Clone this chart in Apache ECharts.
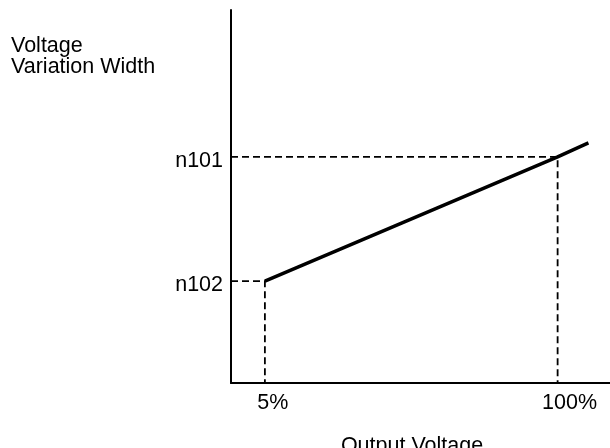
<!DOCTYPE html>
<html>
<head>
<meta charset="utf-8">
<script src="https://cdn.jsdelivr.net/npm/echarts@6/dist/echarts.min.js"></script>
<style>
html,body{margin:0;padding:0;background:#fff;}
#chart{width:610px;height:448px;}
</style>
</head>
<body>
<div id="chart"></div>
<script>
// Data
var yTitle = 'Voltage\nVariation Width';
var xTitle = 'Output Voltage';
var xTickValues = [5, 100];
var xTickLabels = ['5%', '100%'];
var yTickValues = [27.3, 60.6];
var yTickLabels = ['n102', 'n101'];
var mainLine = [[5, 27.3], [100, 60.6], [110, 64.4]];
var guideLow = [[-6, 27.3], [5, 27.3], [5, 0]];
var guideHigh = [[-6, 60.6], [100, 60.6], [100, 0]];

var font = '"Liberation Sans", Arial, Helvetica, sans-serif';
var fs = 21.5;
var ink = '#000';
var chart = echarts.init(document.getElementById('chart'), null, {renderer: 'canvas'});
chart.setOption({
  animation: false,
  backgroundColor: '#ffffff',
  title: {
    text: yTitle,
    left: 11,
    top: 36,
    padding: 0,
    textStyle: {fontFamily: font, fontSize: fs, fontWeight: 'normal', color: ink, lineHeight: 21}
  },
  grid: {left: 231, right: 0, top: 10, bottom: 65, containLabel: false, outerBoundsMode: 'none'},
  xAxis: {
    type: 'value', min: -6, max: 117,
    name: xTitle, nameLocation: 'middle', nameGap: 52,
    nameTextStyle: {fontFamily: font, fontSize: fs, color: ink, padding: [0, 17, 0, 0]},
    splitLine: {show: false},
    axisTick: {show: false},
    axisLine: {onZero: false, lineStyle: {color: ink, width: 2}},
    axisLabel: {
      customValues: xTickValues,
      margin: 9,
      fontFamily: font, fontSize: fs, color: ink,
      formatter: function (v) {
        var i = xTickValues.indexOf(v);
        var s = i >= 0 ? xTickLabels[i] : '';
        return i === 0 ? '{a|' + s + '}' : '{b|' + s + '}';
      },
      rich: {
        a: {fontFamily: font, fontSize: fs, color: ink, padding: [0, 0, 0, 16]},
        b: {fontFamily: font, fontSize: fs, color: ink, padding: [0, 0, 0, 24]}
      }
    }
  },
  yAxis: {
    type: 'value', min: 0, max: 100,
    splitLine: {show: false},
    axisTick: {show: false},
    axisLine: {onZero: false, lineStyle: {color: ink, width: 2}},
    axisLabel: {
      customValues: yTickValues,
      margin: 8,
      fontFamily: font, fontSize: fs, color: ink,
      formatter: function (v) {
        var i = yTickValues.indexOf(v);
        return i >= 0 ? '{c|' + yTickLabels[i] + '}' : '';
      },
      rich: {
        c: {fontFamily: font, fontSize: fs, color: ink, padding: [8, 0, 0, 0]}
      }
    }
  },
  series: [
    {
      type: 'line', data: guideLow, symbol: 'none', silent: true,
      lineStyle: {color: ink, width: 1.8, type: [7, 4]}
    },
    {
      type: 'line', data: guideHigh, symbol: 'none', silent: true,
      lineStyle: {color: ink, width: 1.8, type: [7, 4]}
    },
    {
      type: 'line', data: mainLine, symbol: 'none', silent: true,
      lineStyle: {color: ink, width: 3.5}
    }
  ]
});
</script>
</body>
</html>
